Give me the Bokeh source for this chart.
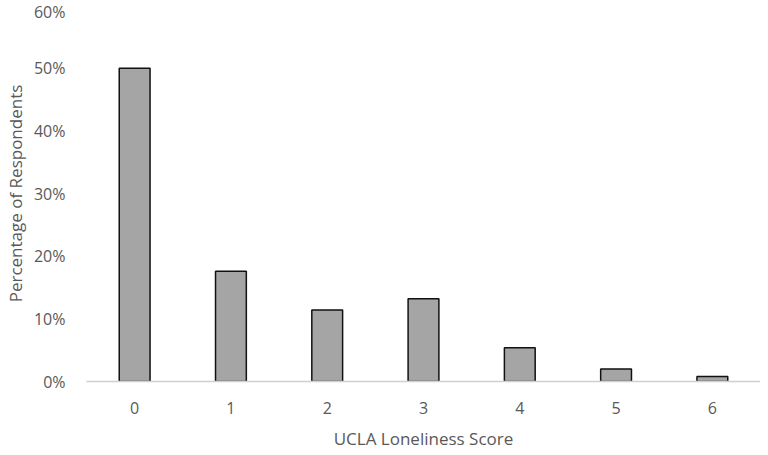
from bokeh.plotting import figure
from bokeh.models import ColumnDataSource, NumeralTickFormatter, FixedTicker, Range1d
from bokeh.embed import file_html
from bokeh.resources import INLINE

scores = ["0", "1", "2", "3", "4", "5", "6"]
percent = [0.50, 0.176, 0.114, 0.132, 0.054, 0.020, 0.008]
y_ticks = [0, 0.1, 0.2, 0.3, 0.4, 0.5, 0.6]
x_title = "UCLA Loneliness Score"
y_title = "Percentage of Respondents"

src = ColumnDataSource(dict(score=scores, pct=percent))

p = figure(width=760, height=452, x_range=scores, y_range=Range1d(0, 0.6),
           output_backend="svg", toolbar_location=None,
           min_border_top=5, min_border_right=0, min_border_left=77, min_border_bottom=40)
p.styles = {"margin-bottom": "-13px"}

p.vbar(x="score", top="pct", width=0.32, source=src,
       fill_color="#a5a5a5", line_color="#111111", line_width=1.5)

gray = "#595959"
font = "Open Sans"

p.yaxis.ticker = FixedTicker(ticks=y_ticks)
p.yaxis.formatter = NumeralTickFormatter(format="0%")
p.yaxis.axis_line_color = None
p.yaxis.major_label_standoff = 21
p.yaxis.axis_label = y_title
p.yaxis.axis_label_standoff = 4

p.xaxis.axis_line_color = "#d0d0d0"
p.xaxis.axis_line_width = 1.5
p.xaxis.major_label_standoff = 20
p.xaxis.axis_label = x_title
p.xaxis.axis_label_standoff = 10

for ax in (p.xaxis, p.yaxis):
    ax.major_tick_line_color = None
    ax.minor_tick_line_color = None
    ax.major_tick_out = 0
    ax.major_tick_in = 0
    ax.minor_tick_out = 0
    ax.minor_tick_in = 0
    ax.major_label_text_font = font
    ax.major_label_text_font_size = "16px"
    ax.major_label_text_color = gray
    ax.axis_label_text_font = font
    ax.axis_label_text_font_size = "17px"
    ax.axis_label_text_font_style = "normal"
    ax.axis_label_text_color = gray

p.xgrid.grid_line_color = None
p.ygrid.grid_line_color = None
p.outline_line_color = None
p.x_range.range_padding = 0

open("out.html", "w").write(file_html(p, INLINE))
